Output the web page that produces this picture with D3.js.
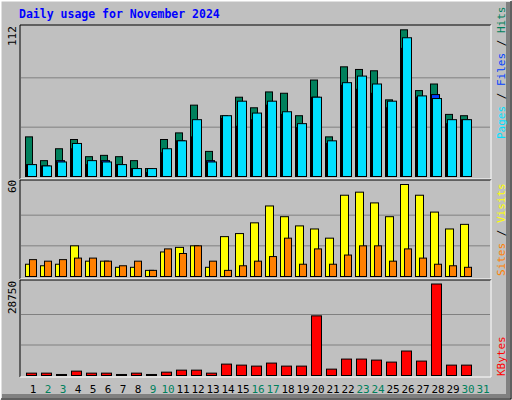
<!DOCTYPE html><html><head><meta charset="utf-8">
<script src="https://cdn.jsdelivr.net/npm/d3@7"></script>
<style>body{margin:0;background:#fff}</style></head><body>
<script>
const days = d3.range(1,32).map(String);
const weekend = ["2","3","9","10","16","17","23","24","30","31"];
const hits  = [30,12,21,28,15,16,15,12,6,28,33,54,19,46,60,52,64,63,46,73,30,83,81,80,58,111,65,70,47,46];
const files = [9,8,11,25,12,11,9,6,6,21,27,43,11,46,57,48,57,49,40,60,27,71,76,70,57,105,61,59,43,43];
const pages = [9,8,12,21,9,12,9,6,3,18,27,30,12,44,38,43,54,47,37,60,25,69,66,63,52,97,60,62,40,43];
const visits= [8,7,8,20,10,10,6,6,4,16,19,20,6,26,28,35,46,39,33,31,25,53,55,48,39,60,53,42,31,34];
const sites = [11,10,11,12,12,10,7,10,4,18,15,20,10,4,7,10,13,25,8,18,8,14,20,20,10,18,12,8,7,6];
const kbytes= [740,740,320,1370,740,740,320,740,320,1050,1680,1680,740,3580,3260,2950,3900,2950,2950,18740,2000,5160,5160,4840,4210,7690,4530,28750,3260,3260];
const maxHits=112, maxVisits=60, maxKB=28750;

const W=512,H=400, L=20, R=491;
const svg=d3.select("body").append("svg").attr("width",W).attr("height",H).style("font-family","DejaVu Sans Mono, monospace");
svg.append("rect").attr("width",W).attr("height",H).attr("fill","#c0c0c0");
svg.append("path").attr("d",`M0.5,${H-0.5}V0.5H${W-0.5}`).attr("fill","none").attr("stroke","#fff").attr("stroke-width",2);
svg.append("path").attr("d",`M1,${H-1}H${W-1}V1`).attr("fill","none").attr("stroke","#000").attr("stroke-width",1);
svg.append("path").attr("d",`M2,${H-4}H${W-4}V2`).attr("fill","none").attr("stroke","#808080").attr("stroke-width",4);
svg.append("text").attr("x",19).attr("y",18).attr("fill","#0000ff").attr("font-weight","bold").attr("font-size",11.5).text("Daily usage for November 2024");

const x=d3.scaleBand().domain(days).range([L+5,L+5+15*31]);
const panels=[{t:25,b:179},{t:180,b:279},{t:280,b:377}];
panels.forEach(p=>{
  svg.append("rect").attr("x",L).attr("y",p.t).attr("width",R-L).attr("height",p.b-p.t).attr("fill","#c0c0c0");
  svg.append("path").attr("d",`M${L},${p.b}V${p.t}H${R}`).attr("fill","none").attr("stroke","#000");
  svg.append("path").attr("d",`M${L},${p.b}H${R}V${p.t}`).attr("fill","none").attr("stroke","#fff");
});
function grid(y,vals){vals.forEach(v=>svg.append("line").attr("x1",L+1).attr("x2",R-1).attr("y1",y(v)).attr("y2",y(v)).attr("stroke","#808080"));}
function bars(data,y,off,w,col){
  svg.append("g").selectAll("rect").data(data).join("rect")
   .attr("x",(d,i)=>x(days[i])+off).attr("width",w)
   .attr("y",d=>y(d)).attr("height",d=>y(0)-y(d))
   .attr("fill",col).attr("stroke","#000").attr("stroke-width",1);
}
function vlabel(xp,yp,txt){svg.append("text").attr("transform",`translate(${xp},${yp}) rotate(-90)`).attr("font-size",11).attr("fill","#000").text(txt);}

const y1=d3.scaleLinear().domain([0,maxHits]).range([176.5,28.5]);
grid(y1,[maxHits/3,maxHits*2/3]);
bars(hits,y1,0.5,7,"#00805c");
bars(pages,y1,1.5,8,"#0040ff");
bars(files,y1,2.5,9,"#00e0ff");
vlabel(16,46,"112");
const y2=d3.scaleLinear().domain([0,maxVisits]).range([276.5,184.5]);
grid(y2,[20,40]);
bars(visits,y2,0.5,8,"#ffff00");
bars(sites,y2,4.5,7,"#ff8000");
vlabel(16,193,"60");
const y3=d3.scaleLinear().domain([0,maxKB]).range([375.5,284]);
grid(y3,[maxKB/3,maxKB*2/3]);
bars(kbytes,y3,1.5,10,"#ff0000");
vlabel(16,314,"28750");

svg.append("g").selectAll("text").data(days).join("text")
 .attr("x",d=>x(d)+8).attr("y",393).attr("text-anchor","middle").attr("font-size",11)
 .attr("fill",d=>weekend.includes(d)?"#00805c":"#000").text(d=>d);

function rlegend(yp,parts){
  const t=svg.append("text").attr("transform",`translate(505,${yp}) rotate(-90)`).attr("font-size",11).attr("xml:space","preserve");
  parts.forEach(([s,c])=>t.append("tspan").attr("fill",c).text(s));
}
rlegend(139,[["Pages","#00e0ff"],[" / ","#000"],["Files","#0040ff"],[" / ","#000"],["Hits","#00805c"]]);
rlegend(276,[["Sites","#ff8000"],[" / ","#000"],["Visits","#ffff00"]]);
rlegend(376,[["KBytes","#ff0000"]]);
</script></body></html>
